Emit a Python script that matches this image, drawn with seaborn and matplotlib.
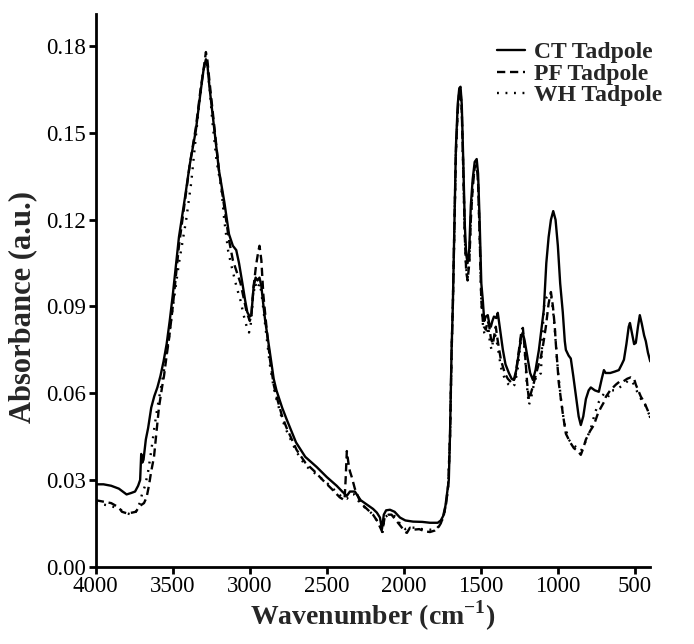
import numpy as np
import pandas as pd
import matplotlib
matplotlib.use("Agg")
import matplotlib.pyplot as plt
import seaborn as sns

# ---------------- data ----------------
ct_wn = [4000, 3950, 3900, 3850, 3800, 3770, 3745, 3725, 3712, 3705, 3698, 3690, 3675, 3660, 3640, 3620,
         3600, 3580, 3560, 3540, 3520, 3500, 3460, 3420, 3390, 3350, 3320, 3300, 3285, 3275, 3262, 3230,
         3200, 3165, 3135, 3110, 3088, 3070, 3048, 3030, 3016, 3000, 2990, 2975, 2962, 2950, 2937, 2925,
         2915, 2900, 2872, 2845, 2827, 2790, 2761, 2700, 2640, 2566, 2500, 2436, 2400, 2370, 2350, 2330,
         2318, 2280, 2240, 2200, 2175, 2155, 2142, 2130, 2115, 2090, 2060, 2025, 1990, 1940, 1880, 1830,
         1780, 1760, 1745, 1730, 1718, 1708, 1700, 1690, 1682, 1672, 1662, 1650, 1640, 1632, 1624, 1614,
         1604, 1595, 1586, 1575, 1565, 1553, 1540, 1527, 1518, 1508, 1497, 1487, 1478, 1468, 1455, 1445,
         1435, 1425, 1415, 1400, 1390, 1375, 1357, 1340, 1318, 1300, 1286, 1270, 1253, 1240, 1228, 1215,
         1195, 1180, 1162, 1145, 1123, 1105, 1091, 1075, 1060, 1045, 1030, 1015, 1000, 985, 968, 955,
         948, 930, 916, 900, 880, 865, 851, 835, 818, 800, 786, 760, 734, 715, 701, 690, 660, 630, 604,
         585, 571, 555, 540, 532, 520, 505, 494, 480, 468, 455, 440, 429, 415, 400]
ct_abs = [0.0285, 0.0285, 0.028, 0.027, 0.025, 0.0255, 0.026, 0.028, 0.030, 0.039, 0.036, 0.037, 0.044, 0.048, 0.055, 0.059,
          0.062, 0.066, 0.071, 0.077, 0.085, 0.094, 0.114, 0.128, 0.139, 0.151, 0.164, 0.172, 0.1755, 0.1735, 0.166, 0.151,
          0.137, 0.126, 0.115, 0.111, 0.1095, 0.105, 0.098, 0.092, 0.088, 0.0865, 0.087, 0.097, 0.100, 0.099, 0.100, 0.097,
          0.092, 0.085, 0.075, 0.065, 0.061, 0.055, 0.051, 0.043, 0.038, 0.0345, 0.031, 0.028, 0.026, 0.0245, 0.026, 0.026,
          0.026, 0.023, 0.0215, 0.020, 0.0187, 0.017, 0.013, 0.018, 0.0195, 0.0197, 0.019, 0.017, 0.016, 0.0156, 0.0155, 0.0152,
          0.0152, 0.016, 0.0175, 0.021, 0.026, 0.030, 0.046, 0.075, 0.090, 0.118, 0.145, 0.160, 0.1655, 0.166, 0.160, 0.140,
          0.118, 0.108, 0.105, 0.110, 0.125, 0.134, 0.140, 0.141, 0.136, 0.120, 0.098, 0.092, 0.085, 0.0865, 0.087, 0.084,
          0.083, 0.085, 0.0865, 0.086, 0.0878, 0.082, 0.075, 0.070, 0.067, 0.065, 0.0646, 0.068, 0.074, 0.079, 0.081, 0.078,
          0.0716, 0.067, 0.0646, 0.068, 0.075, 0.083, 0.089, 0.105, 0.114, 0.120, 0.123, 0.120, 0.111, 0.098, 0.088, 0.078,
          0.075, 0.073, 0.072, 0.066, 0.058, 0.052, 0.049, 0.052, 0.058, 0.061, 0.062, 0.061, 0.0605, 0.065, 0.068, 0.067, 0.067, 0.0675, 0.068,
          0.070, 0.0716, 0.077, 0.083, 0.0843, 0.081, 0.077, 0.0774, 0.083, 0.087, 0.084, 0.080, 0.078, 0.074, 0.071]

pf_wn = [4000, 3950, 3900, 3850, 3830, 3800, 3765, 3740, 3715, 3687, 3670, 3655, 3640, 3622, 3605, 3590,
         3570, 3557, 3540, 3524, 3500, 3460, 3420, 3390, 3350, 3320, 3300, 3285, 3275, 3262, 3230, 3200,
         3165, 3135, 3110, 3085, 3060, 3040, 3020, 3000, 2990, 2975, 2960, 2945, 2937, 2925, 2912, 2892,
         2870, 2845, 2827, 2790, 2761, 2696, 2640, 2580, 2527, 2470, 2416, 2385, 2378, 2370, 2360, 2350,
         2338, 2318, 2280, 2240, 2200, 2175, 2155, 2140, 2125, 2100, 2080, 2050, 2020, 1990, 1980, 1960,
         1940, 1900, 1860, 1830, 1800, 1777, 1760, 1740, 1725, 1712, 1700, 1690, 1682, 1672, 1662, 1650,
         1640, 1632, 1624, 1614, 1604, 1595, 1586, 1575, 1565, 1553, 1540, 1527, 1518, 1508, 1497, 1487,
         1480, 1468, 1455, 1445, 1435, 1422, 1410, 1403, 1390, 1370, 1345, 1325, 1300, 1292, 1275, 1260,
         1245, 1235, 1227, 1215, 1200, 1188, 1175, 1156, 1135, 1110, 1095, 1078, 1060, 1045, 1032, 1020,
         1013, 1000, 994, 980, 968, 948, 920, 896, 870, 851, 835, 818, 790, 766, 740, 721, 700, 688, 660,
         623, 600, 578, 550, 526, 505, 494, 478, 461, 440, 416, 400]
pf_abs = [0.023, 0.0225, 0.022, 0.0205, 0.019, 0.0185, 0.0187, 0.019, 0.021, 0.022, 0.024, 0.028, 0.033, 0.038, 0.047, 0.055,
          0.062, 0.066, 0.073, 0.079, 0.090, 0.111, 0.127, 0.139, 0.152, 0.165, 0.172, 0.178, 0.175, 0.168, 0.152, 0.137,
          0.124, 0.113, 0.106, 0.102, 0.098, 0.093, 0.088, 0.085, 0.087, 0.097, 0.104, 0.109, 0.111, 0.106, 0.094, 0.083,
          0.072, 0.063, 0.059, 0.052, 0.048, 0.0404, 0.036, 0.033, 0.030, 0.027, 0.024, 0.023, 0.030, 0.040, 0.036, 0.033,
          0.031, 0.027, 0.022, 0.020, 0.018, 0.016, 0.0138, 0.012, 0.017, 0.018, 0.018, 0.016, 0.014, 0.012, 0.0117, 0.0135,
          0.0128, 0.013, 0.0122, 0.012, 0.0125, 0.0135, 0.015, 0.018, 0.022, 0.028, 0.045, 0.074, 0.090, 0.117, 0.143, 0.158,
          0.164, 0.165, 0.158, 0.137, 0.114, 0.102, 0.099, 0.105, 0.120, 0.131, 0.138, 0.139, 0.133, 0.115, 0.092, 0.085,
          0.083, 0.082, 0.085, 0.083, 0.079, 0.077, 0.081, 0.083, 0.078, 0.0716, 0.067, 0.065, 0.0636, 0.0636, 0.066, 0.072,
          0.078, 0.082, 0.0826, 0.075, 0.064, 0.0577, 0.060, 0.0636, 0.068, 0.0726, 0.077, 0.083, 0.091, 0.095, 0.090, 0.083,
          0.077, 0.068, 0.0636, 0.058, 0.053, 0.046, 0.043, 0.041, 0.040, 0.0387, 0.041, 0.044, 0.047, 0.049, 0.053, 0.055, 0.057, 0.0588, 0.061,
          0.063, 0.064, 0.064, 0.065, 0.0655, 0.065, 0.063, 0.061, 0.0588, 0.057, 0.054, 0.0515]

wh_wn = [4000, 3950, 3900, 3850, 3800, 3765, 3740, 3715, 3700, 3680, 3660, 3640, 3620, 3600, 3580, 3560,
         3540, 3520, 3505, 3460, 3413, 3380, 3361, 3329, 3305, 3290, 3278, 3260, 3244, 3215, 3185, 3166,
         3140, 3113, 3087, 3060, 3040, 3020, 3005, 2995, 2980, 2965, 2950, 2937, 2925, 2910, 2890, 2870,
         2845, 2827, 2790, 2761, 2700, 2640, 2570, 2500, 2440, 2400, 2370, 2350, 2320, 2280, 2240, 2200,
         2175, 2155, 2140, 2125, 2100, 2060, 2020, 1990, 1960, 1930, 1880, 1830, 1790, 1760, 1740, 1725,
         1712, 1700, 1690, 1682, 1672, 1662, 1650, 1640, 1632, 1624, 1614, 1604, 1595, 1586, 1575, 1565,
         1553, 1540, 1527, 1518, 1508, 1497, 1487, 1478, 1465, 1452, 1440, 1430, 1418, 1405, 1390, 1370,
         1345, 1320, 1300, 1280, 1262, 1245, 1232, 1222, 1210, 1200, 1188, 1175, 1160, 1140, 1122, 1110,
         1100, 1090, 1075, 1060, 1045, 1032, 1020, 1000, 980, 960, 930, 900, 870, 851, 830, 800, 785,
         760, 734, 705, 690, 670, 650, 620, 600, 570, 540, 520, 505, 481, 460, 440, 420, 400]
wh_abs = [0.022, 0.0215, 0.021, 0.020, 0.0185, 0.018, 0.019, 0.022, 0.025, 0.028, 0.033, 0.040, 0.048, 0.055, 0.061, 0.067,
          0.074, 0.081, 0.0878, 0.105, 0.120, 0.133, 0.143, 0.160, 0.170, 0.1745, 0.174, 0.165, 0.1545, 0.140, 0.131, 0.120,
          0.109, 0.1027, 0.097, 0.092, 0.087, 0.083, 0.081, 0.083, 0.093, 0.098, 0.096, 0.098, 0.095, 0.088, 0.079, 0.070,
          0.062, 0.058, 0.051, 0.047, 0.040, 0.035, 0.032, 0.029, 0.026, 0.024, 0.0235, 0.025, 0.025, 0.0215, 0.020, 0.018,
          0.016, 0.014, 0.0115, 0.017, 0.018, 0.0175, 0.0145, 0.013, 0.0135, 0.0135, 0.013, 0.0128, 0.013, 0.0148, 0.018, 0.022,
          0.028, 0.045, 0.074, 0.090, 0.117, 0.143, 0.158, 0.164, 0.165, 0.158, 0.137, 0.114, 0.103, 0.100, 0.106, 0.121,
          0.132, 0.138, 0.139, 0.133, 0.115, 0.092, 0.084, 0.081, 0.080, 0.083, 0.077, 0.075, 0.079, 0.080, 0.076, 0.069,
          0.065, 0.063, 0.062, 0.063, 0.068, 0.076, 0.081, 0.080, 0.070, 0.062, 0.056, 0.058, 0.062, 0.066, 0.066, 0.067,
          0.080, 0.090, 0.093, 0.094, 0.094, 0.089, 0.082, 0.068, 0.058, 0.050, 0.044, 0.042, 0.041, 0.040, 0.042, 0.046, 0.048,
          0.053, 0.057, 0.0595, 0.0605, 0.059, 0.061, 0.061, 0.062, 0.063, 0.0646, 0.064, 0.063, 0.060, 0.058, 0.057, 0.054, 0.052]

series_names = ["CT Tadpole", "PF Tadpole", "WH Tadpole"]
x_ticks = [4000, 3500, 3000, 2500, 2000, 1500, 1000, 500]
y_ticks = [0.00, 0.03, 0.06, 0.09, 0.12, 0.15, 0.18]

# ---------------- build table ----------------
frames = []
for name, wn, ab in zip(series_names, [ct_wn, pf_wn, wh_wn], [ct_abs, pf_abs, wh_abs]):
    frames.append(pd.DataFrame({"Wavenumber": wn, "Absorbance": ab, "Sample": name}))
df = pd.concat(frames, ignore_index=True)

# ---------------- plot ----------------
sns.set_theme(style="ticks")
plt.rcParams["font.family"] = ["Liberation Serif", "DejaVu Serif"]
plt.rcParams["mathtext.fontset"] = "custom"
plt.rcParams["mathtext.rm"] = "Liberation Serif"
plt.rcParams["mathtext.bf"] = "Liberation Serif:bold"

fig = plt.figure(figsize=(6.94, 6.44), dpi=100)
ax = fig.add_axes([0.138, 0.12, 0.799, 0.858])

dash_map = {"CT Tadpole": "", "PF Tadpole": (3.5, 2.0), "WH Tadpole": (0.8, 2.8)}
sns.lineplot(data=df, x="Wavenumber", y="Absorbance", hue="Sample", style="Sample",
             hue_order=series_names, style_order=series_names,
             palette=["black", "black", "black"], dashes=dash_map,
             sort=False, estimator=None, linewidth=1.7, ax=ax, legend=True)

ax.set_xlim(4000, 400)
ax.set_ylim(0, 0.1911)
ax.set_xticks(x_ticks)
ax.set_xticklabels([str(v) for v in x_ticks])
ax.set_yticks(y_ticks)
ax.set_yticklabels([f"{v:.2f}" for v in y_ticks])

for s in ["top", "right"]:
    ax.spines[s].set_visible(False)
for s in ["left", "bottom"]:
    ax.spines[s].set_linewidth(2.0)
    ax.spines[s].set_color("black")
ax.tick_params(axis="both", direction="out", length=5, width=2.0, colors="black",
               labelsize=16.5, pad=2)

ax.set_xlabel(r"Wavenumber (cm$^{\mathbf{-1}}$)", fontsize=20, fontweight="bold", labelpad=1)
ax.set_ylabel("Absorbance (a.u.)", fontsize=22, fontweight="bold")
ax.yaxis.set_label_coords(-0.106, 0.47)

handles, labels = ax.get_legend_handles_labels()
leg = ax.legend(handles, labels, loc="upper left", bbox_to_anchor=(0.716, 0.935),
                bbox_transform=fig.transFigure, frameon=False,
                prop={"family": "Liberation Serif", "weight": "bold", "size": 17},
                handlelength=1.2, handletextpad=0.35, labelspacing=0.0, borderpad=0.0,
                borderaxespad=0.0)

fig.savefig("out.png", dpi=100)
